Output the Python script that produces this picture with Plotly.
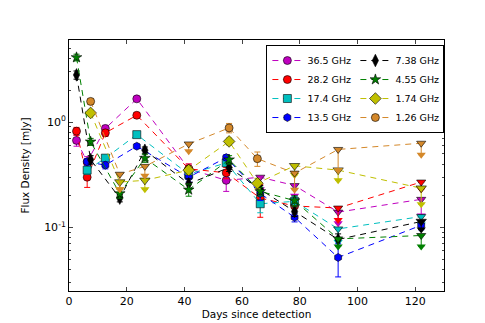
import math
import plotly.graph_objects as go

# Flux density light curves per observing band.
# err = 1-sigma error for detections; for upper limits (lim=1) it is the arrow length
x_365 = [2.6, 6.3, 12.6, 23.5, 41.5, 54.5, 66.3, 78.2, 93.3, 122.1]
y_365 = [0.67, 0.42, 0.87, 1.66, 0.36, 0.28, 0.30, 0.25, 0.14, 0.185]
e_365 = [0.08, 0.05, 0.06, 0.08, 0.04, 0.06, 0.07, 0.05, 0.03, 0.055]
l_365 = [0, 0, 0, 0, 0, 0, 1, 1, 1, 1]

x_282 = [2.6, 6.3, 12.6, 23.5, 41.5, 54.5, 66.3, 78.2, 93.3, 122.1]
y_282 = [0.82, 0.30, 0.79, 1.16, 0.36, 0.33, 0.19, 0.16, 0.153, 0.27]
e_282 = [0.07, 0.06, 0.06, 0.07, 0.04, 0.04, 0.065, 0.03, 0.035, 0.04]
l_282 = [0, 0, 0, 0, 0, 0, 0, 0, 1, 1]

x_174 = [6.3, 12.6, 23.5, 41.5, 54.5, 66.3, 78.2, 93.3, 122.1]
y_174 = [0.35, 0.455, 0.76, 0.32, 0.41, 0.168, 0.177, 0.097, 0.127]
e_174 = [0.03, 0.03, 0.04, 0.03, 0.03, 0.03, 0.02, 0.024, 0.02]
l_174 = [0, 0, 0, 0, 0, 0, 0, 1, 1]

x_135 = [6.3, 12.6, 23.5, 41.5, 54.5, 66.3, 78.2, 93.3, 122.1]
y_135 = [0.42, 0.39, 0.59, 0.30, 0.46, 0.21, 0.125, 0.052, 0.105]
e_135 = [0.03, 0.03, 0.03, 0.03, 0.03, 0.03, 0.012, 0.018, 0.01]
l_135 = [0, 0, 0, 0, 0, 0, 0, 0, 0]

x_738 = [2.6, 7.5, 17.6, 26.3, 41.5, 55.5, 66.3, 78.2, 93.3, 122.1]
y_738 = [2.8, 0.44, 0.19, 0.54, 0.26, 0.37, 0.23, 0.142, 0.077, 0.114]
e_738 = [0.25, 0.04, 0.015, 0.04, 0.03, 0.03, 0.02, 0.015, 0.01, 0.018]
l_738 = [0, 0, 0, 0, 0, 0, 0, 0, 0, 1]

x_455 = [2.6, 7.5, 17.6, 26.3, 41.5, 55.5, 66.3, 78.2, 93.3, 122.1]
y_455 = [4.1, 0.65, 0.21, 0.455, 0.228, 0.44, 0.22, 0.18, 0.078, 0.084]
e_455 = [0.3, 0.05, 0.02, 0.04, 0.03, 0.04, 0.02, 0.02, 0.012, 0.018]
l_455 = [0, 0, 0, 0, 0, 0, 0, 0, 1, 1]

x_174l = [7.5, 17.6, 26.3, 41.5, 55.5, 65.3, 78.2, 93.3, 122.1]
y_174l = [1.22, 0.27, 0.28, 0.35, 0.655, 0.263, 0.385, 0.35, 0.236]
e_174l = [0.08, 0.04, 0.05, 0.03, 0.05, 0.03, 0.07, 0.07, 0.07]
l_174l = [0, 1, 1, 0, 0, 0, 1, 1, 1]

x_126 = [7.5, 17.6, 26.3, 41.5, 55.5, 65.3, 78.2, 93.3, 122.1]
y_126 = [1.57, 0.32, 0.38, 0.62, 0.88, 0.45, 0.328, 0.55, 0.63]
e_126 = [0.1, 0.09, 0.07, 0.09, 0.09, 0.07, 0.1, 0.2, 0.14]
l_126 = [0, 1, 1, 1, 0, 0, 1, 1, 1]

# name, data, colour, symbol, marker size, legend rank (2-column legend, row-major)
bands = [
    ("36.5 GHz", x_365, y_365, e_365, l_365, "#bf00bf", "circle", 8, 1),
    ("28.2 GHz", x_282, y_282, e_282, l_282, "#ff0000", "circle", 8, 3),
    ("17.4 GHz", x_174, y_174, e_174, l_174, "#00bfbf", "square", 8, 5),
    ("13.5 GHz", x_135, y_135, e_135, l_135, "#0000ff", "hexagon", 8, 7),
    ("7.38 GHz", x_738, y_738, e_738, l_738, "#000000", "diamond-tall", 9, 2),
    ("4.55 GHz", x_455, y_455, e_455, l_455, "#008000", "star", 8, 4),
    ("1.74 GHz", x_174l, y_174l, e_174l, l_174l, "#bfbf00", "diamond", 9, 6),
    ("1.26 GHz", x_126, y_126, e_126, l_126, "#d4882a", "circle", 8, 8),
]

fig = go.Figure()
for name, xs, ys, es, lims, col, sym, size, rank in bands:
    symbols = ["triangle-down" if l else sym for l in lims]
    fig.add_trace(go.Scatter(
        x=xs, y=ys, name=name, mode="lines+markers",
        line=dict(color=col, width=1, dash="6px,5px"),
        marker=dict(symbol=symbols, size=size, color=col,
                    line=dict(color="black", width=0.6)),
        error_y=dict(type="data", symmetric=False,
                     array=[0 if l else e for e, l in zip(es, lims)],
                     arrayminus=es, color=col, thickness=1, width=3),
        legendrank=rank,
    ))
    # arrow heads of the upper limits
    ax = [x for x, l in zip(xs, lims) if l]
    ay = [y - e for y, e, l in zip(ys, es, lims) if l]
    fig.add_trace(go.Scatter(
        x=ax, y=ay, mode="markers", showlegend=False, hoverinfo="skip",
        marker=dict(symbol="triangle-down", size=8, color=col, line=dict(width=0)),
    ))

minor_y = [m * 10 ** p for p in (-2, -1, 0) for m in range(2, 10)]

fig.update_layout(
    width=485, height=323,
    template="simple_white",
    paper_bgcolor="white", plot_bgcolor="white",
    font=dict(family="DejaVu Sans", size=11, color="black"),
    margin=dict(l=61, r=49, t=32, b=40, autoexpand=False),
    xaxis=dict(
        range=[0, 130], dtick=20, ticks="inside", ticklen=4, tickwidth=1,
        showline=True, linecolor="black", linewidth=1, mirror="ticks",
        showgrid=False, zeroline=False,
        tickfont=dict(size=11),
        title=dict(text="Days since detection", font=dict(size=10.5), standoff=0),
    ),
    yaxis=dict(
        type="log", range=[math.log10(0.025), math.log10(6)],
        tickvals=[0.1, 1],
        ticktext=["10<sup>-1</sup>", "10<sup>0</sup>"],
        ticks="inside", ticklen=4, tickwidth=1,
        minor=dict(tickvals=minor_y, ticks="inside", ticklen=2, tickwidth=1, showgrid=False),
        showline=True, linecolor="black", linewidth=1, mirror="ticks",
        showgrid=False, zeroline=False,
        tickfont=dict(size=11),
        title=dict(text="Flux Density [mJy]", font=dict(size=10.5), standoff=12),
    ),
    legend=dict(
        orientation="h", x=1.001, xanchor="right", y=0.98, yanchor="top",
        entrywidth=43, entrywidthmode="pixels",
        bordercolor="black", borderwidth=1, bgcolor="white",
        font=dict(size=9.5), itemwidth=30,
    ),
    showlegend=True,
)

fig.write_html("out.html")
